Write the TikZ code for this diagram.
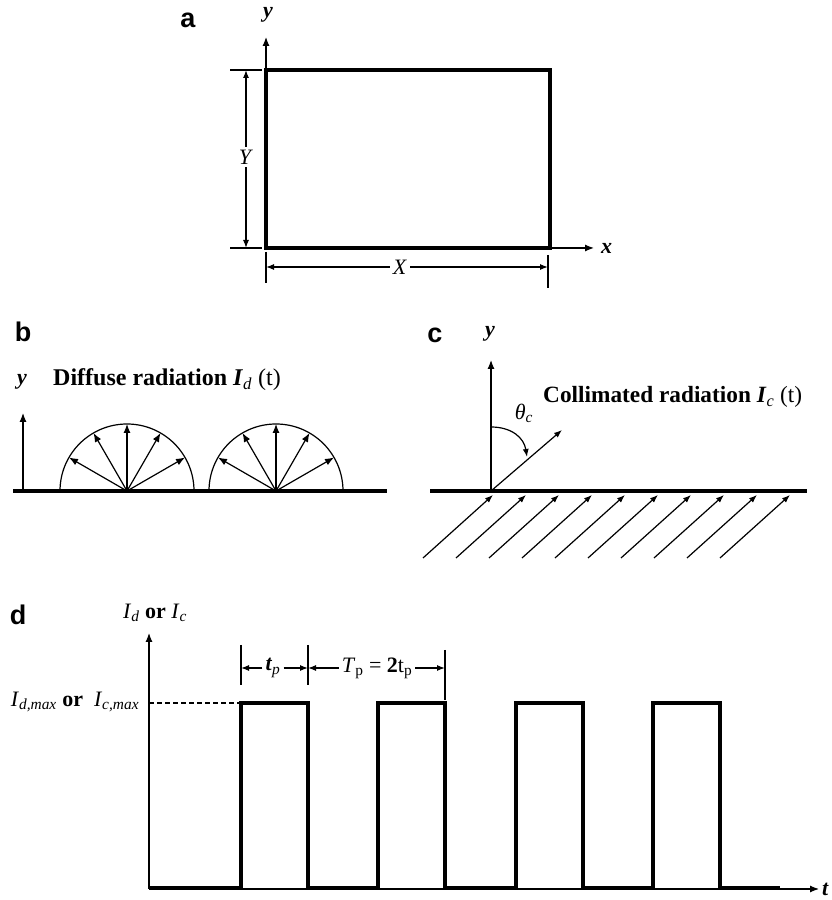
\documentclass[tikz,border=0pt]{standalone}
\usepackage{fontspec}
\setmainfont{Liberation Serif}
\newfontfamily\lsans{Liberation Sans}
\usetikzlibrary{arrows.meta,calc}
\begin{document}
\begin{tikzpicture}[x=1pt,y=1pt,
  heavy/.style={line width=3.5pt},
  lite/.style={line width=1.2pt},
  arr/.style={lite,-{Latex[length=9pt,width=7pt]}},
  sarr/.style={lite,-{Latex[length=8pt,width=6pt]}},
  panel/.style={font=\lsans\bfseries\fontsize{27}{31}\selectfont, inner sep=0pt},
  lbl/.style={font=\fontsize{22}{26}\selectfont, inner sep=1pt},
  dlbl/.style={font=\fontsize{22}{26}\selectfont, inner sep=3pt},
  txt/.style={font=\fontsize{24}{29}\selectfont, inner sep=0pt},
]
\useasboundingbox (0,0) rectangle (831,900);

% ---------------- panel a ----------------
\node[panel] (pa) at (188,880) {a};
\coordinate (O) at (266,652);
\coordinate (TR) at (550,830);
\coordinate (R) at (550,652);
\coordinate (ytip) at (266,863);
\coordinate (xtip) at (594,652);
\draw[arr] (O) -- (ytip);
\node[lbl] (ya) at (268,885) {\textbf{\textit{y}}};
\draw[heavy, line join=miter] (O) rectangle (TR);
\draw[arr] (R) -- (xtip);
\node[lbl,anchor=west] (xa) at (600,652) {\textbf{\textit{x}}};
% Y dimension
\coordinate (Yt) at (246,830);
\coordinate (Yb) at (246,652);
\draw[lite] (230,830) -- (262,830);
\draw[lite] (230,652) -- (262,652);
\node[dlbl] (Ylab) at (246,743) {\textit{Y}};
\draw[sarr] (Ylab) -- (Yt);
\draw[sarr] (Ylab) -- (Yb);
% X dimension
\coordinate (Xl) at (266,633);
\coordinate (Xr) at (548,633);
\draw[lite] (266,648) -- (266,617);
\draw[lite] (548,645) -- (548,612);
\node[dlbl] (Xlab) at (400,633) {\textit{X}};
\draw[sarr] (Xlab) -- (Xl);
\draw[sarr] (Xlab) -- (Xr);

% ---------------- panel b ----------------
\node[panel] (pb) at (23,568) {b};
\node[lbl] (yb) at (22,518) {\textbf{\textit{y}}};
\node[txt,anchor=west] (tb) at (53,520) {\textbf{Diffuse radiation} \textbf{\textit{I}}\textsubscript{\textit{d}} (t)};
\draw[heavy] (13,409) -- (387,409);
\draw[arr] (23,409) -- (23,487);
\foreach \c in {127,276} {
  \draw[lite] (\c-67,409) arc[start angle=180,end angle=0,radius=67];
  \foreach \a in {30,60,90,120,150}
    \draw[arr] (\c,409) -- ++(\a:67);
}

% ---------------- panel c ----------------
\node[panel] (pc) at (435,565) {c};
\node[lbl] (yc) at (490,566) {\textbf{\textit{y}}};
\draw[heavy] (430,409) -- (807,409);
\coordinate (Oc) at (491,409);
\draw[arr] (Oc) -- (491,540);
\node[txt,anchor=west,font=\fontsize{23.3}{28}\selectfont] (tc) at (543,503) {\textbf{Collimated radiation} \textbf{\textit{I}}\textsubscript{\textit{c}} (t)};
\node[lbl] (th) at (524,487) {\textit{θ}\textsubscript{\textit{c}}};
\draw[sarr] (Oc) -- (562,470);
\draw[sarr] (491,473) .. controls (512,473) and (524,462) .. (527,443);
\foreach \k in {0,...,9}
  \draw[sarr] (423+33*\k,342) -- ++(70,63);

% ---------------- panel d ----------------
\node[panel] (pd) at (18,285) {d};
\node[lbl] (yd) at (155,287) {\textit{I}\textsubscript{\textit{d}} \textbf{or} \textit{I}\textsubscript{\textit{c}}};
\coordinate (Od) at (149,11);
\draw[arr] (Od) -- (149,267);
\draw[arr] (Od) -- (819,11);
\node[lbl,anchor=west] (td) at (821,11) {\textbf{\textit{t}}};
\draw[lite,dash pattern=on 5pt off 3pt] (149,197) -- (241,197);
\node[lbl] (imax) at (75,198) {\textit{I}\textsubscript{\textit{d,max}} \textbf{or} \ \textit{I}\textsubscript{\textit{c,max}}};
\draw[heavy, line join=miter] (149,12) -- (241,12) -- (241,197) -- (308,197) -- (308,12)
  -- (378,12) -- (378,197) -- (445,197) -- (445,12)
  -- (516,12) -- (516,197) -- (583,197) -- (583,12)
  -- (653,12) -- (653,197) -- (720,197) -- (720,12) -- (780,12);
% timing dimensions
\draw[lite] (241,255) -- (241,215);
\draw[lite] (308,255) -- (308,215);
\draw[lite] (445,250) -- (445,200);
\node[dlbl] (tpl) at (273,232) {\textbf{\textit{t}}\textsubscript{\textit{p}}};
\draw[sarr] (tpl) -- (241,232);
\draw[sarr] (tpl) -- (308,232);
\node[dlbl] (Tpl) at (377,232) {\textit{T}\textsubscript{p} = \textbf{2}t\textsubscript{p}};
\draw[sarr] (Tpl) -- (308,232);
\draw[sarr] (Tpl) -- (445,232);
\end{tikzpicture}
\end{document}
